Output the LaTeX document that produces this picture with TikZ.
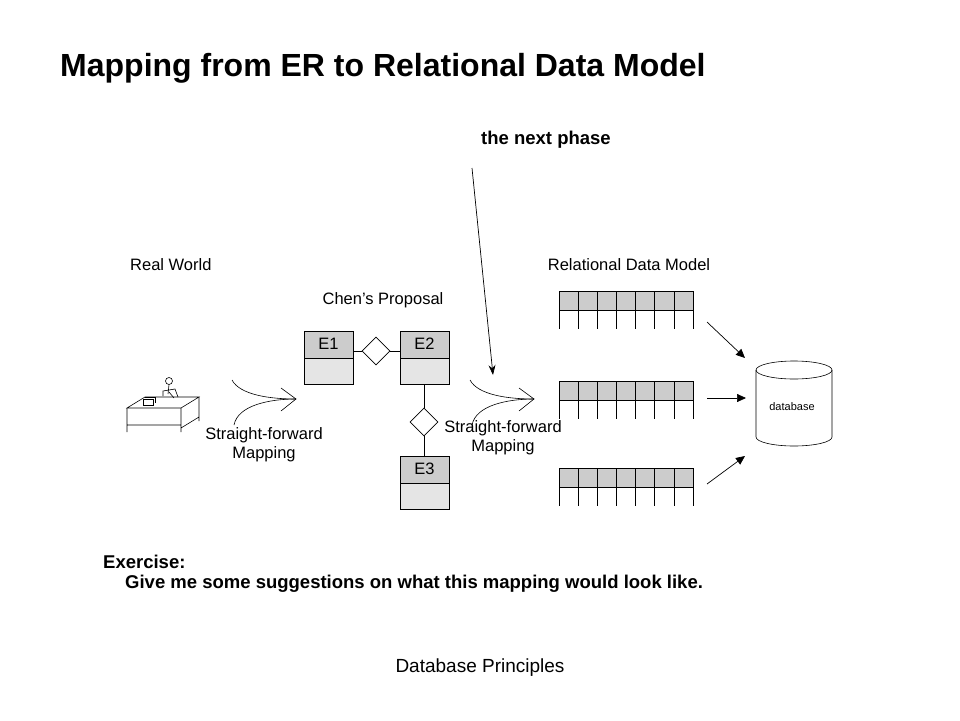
\documentclass[tikz,border=0pt]{standalone}
\usepackage{fontspec}
\setmainfont{Liberation Sans}
\usetikzlibrary{arrows.meta,shapes.geometric}
\begin{document}
\begin{tikzpicture}[x=1pt,y=-1pt,
  lbl/.style={font=\fontsize{16.5}{19}\selectfont, inner sep=0pt},
  ent/.style={draw, line width=0.6pt},
  rel/.style={draw, diamond, minimum width=28pt, minimum height=28pt, inner sep=0pt, line width=0.6pt},
  thin/.style={line width=0.6pt},
  dbarrow/.style={-{Triangle[length=9pt,width=8pt]}, line width=0.7pt}]
\useasboundingbox (0,0) rectangle (960,720);
\node[anchor=west, inner sep=0pt, font=\bfseries\fontsize{32}{36}\selectfont] (title) at (60,68) {Mapping from ER to Relational Data Model};
\node[anchor=west, inner sep=0pt, font=\bfseries\fontsize{18.5}{21}\selectfont] (next) at (481,140) {the next phase};
\coordinate (ns) at (472,168);
\coordinate (ne) at (493,375);
\draw[-{Stealth[length=10pt,width=7pt]}, line width=0.7pt] (ns) -- (ne);
\node[lbl, anchor=west] (rw) at (130,265) {Real World};
\node[lbl] (cp) at (383,300) {Chen's Proposal};
\node[lbl] (rdm) at (629,265) {Relational Data Model};
% desk
\draw[thin] (127,408) -- (181,408) -- (199,397) -- (145,397) -- cycle;
\draw[thin] (127,408) -- (127,432) (127,425) -- (181,425) (181,408) -- (181,432) (181,428) -- (199,417) (199,397) -- (199,421);
\draw[thin] (143,399) rectangle (153,405) (145,397) -- (155,397) -- (155,403);
\draw[thin] (169,381) circle (3.5);
\draw[thin] (169,384.5) -- (168,394) (163,396) -- (163,391) -- (175,389) -- (178,397) (169,392) -- (174,398);
% curved arrows
\foreach \x in {0,238}{
  \draw[thin] (232+\x,380) .. controls (240+\x,395) and (270+\x,399) .. (296+\x,399);
  \draw[thin] (234+\x,425) .. controls (238+\x,405) and (270+\x,399) .. (296+\x,399);
  \draw[thin] (281+\x,388) -- (296+\x,399) -- (281+\x,411);
}
\node[lbl, align=center] (m1) at (264,445) {Straight-forward\\Mapping};
\node[lbl, align=center] (m2) at (503,438) {Straight-forward\\Mapping};
% ER
\foreach \nm/\x/\y in {E1/304/331,E2/400/331,E3/400/456}{
  \fill[gray!40] (\x,\y) rectangle (\x+49,\y+27);
  \fill[gray!20] (\x,\y+27) rectangle (\x+49,\y+53);
  \draw[ent] (\x,\y) rectangle (\x+49,\y+53) (\x,\y+27) -- (\x+49,\y+27);
  \node[lbl] (\nm) at (\x+24.5,\y+13) {\nm};
}
\node[rel] (r1) at (376,351) {};
\node[rel] (r2) at (424,422) {};
\draw[thin] (353,351) -- (r1.west) (r1.east) -- (400,351);
\draw[thin] (424,384) -- (r2.north) (r2.south) -- (424,456);
% tables
\foreach \y in {291,381,468}{
  \fill[gray!40] (559,\y) rectangle (693,\y+19);
  \draw[thin] (559,\y) rectangle (693,\y+19);
  \foreach \i in {0,...,7}{ \draw[thin] (559+\i*19.14,\y) -- (559+\i*19.14,\y+38); }
}
% database
\draw[thin, fill=white] (756,370) -- (756,437) arc[start angle=180, end angle=0, x radius=38, y radius=9] -- (832,370);
\draw[thin] (794,370) ellipse [x radius=38, y radius=9];
\node[font=\fontsize{11}{13}\selectfont] (dbt) at (792,407) {database};
\coordinate (t1) at (707,322); \coordinate (h1) at (745,358);
\coordinate (t2) at (707,398); \coordinate (h2) at (746,398);
\coordinate (t3) at (707,484); \coordinate (h3) at (745,456);
\draw[dbarrow] (t1) -- (h1);
\draw[dbarrow] (t2) -- (h2);
\draw[dbarrow] (t3) -- (h3);
\node[anchor=west, inner sep=0pt, font=\bfseries\fontsize{18.5}{21}\selectfont] (ex) at (103,562) {Exercise:};
\node[anchor=west, inner sep=0pt, font=\bfseries\fontsize{18.5}{21}\selectfont] (ex2) at (125,584) {Give me some suggestions on what this mapping would look like.};
\node[font=\fontsize{19}{22}\selectfont] (foot) at (480,668) {Database Principles};
\end{tikzpicture}
\end{document}
